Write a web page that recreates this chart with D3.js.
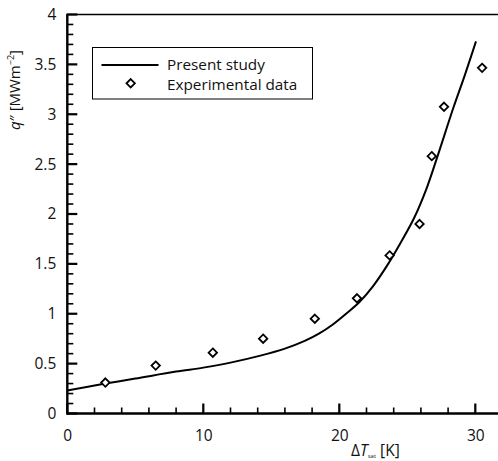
<!DOCTYPE html>
<html>
<head>
<meta charset="utf-8">
<script src="https://cdn.jsdelivr.net/npm/d3@7"></script>
<style>
  html, body { margin: 0; padding: 0; background: #fff; }
  svg { display: block; font-family: "Open Sans", "Noto Sans", sans-serif; }
</style>
</head>
<body>
<svg id="chart" width="498" height="461"></svg>
<script>
// Model prediction: heat flux vs. wall superheat
const modelDT = [0, 2.8, 5, 8, 10, 12, 14.2, 16, 17.5, 18.5, 19.5, 20.5, 21.5, 22.5, 23.5, 24.5, 25.5, 26.4, 27.2, 28.4, 29.25, 30.05];
const modelQ  = [0.23, 0.30, 0.35, 0.42, 0.46, 0.51, 0.58, 0.65, 0.73, 0.80, 0.89, 1.00, 1.12, 1.28, 1.48, 1.71, 1.96, 2.25, 2.57, 3.07, 3.40, 3.73];

// Measured points
const expDT = [2.8, 6.5, 10.7, 14.4, 18.2, 21.3, 23.7, 25.9, 26.8, 27.7, 30.5];
const expQ  = [0.31, 0.48, 0.61, 0.75, 0.95, 1.155, 1.585, 1.90, 2.58, 3.075, 3.465];

const xMajor = [0, 10, 20, 30];
const xMinor = d3.range(0, 33, 2);
const yMajor = [0, 0.5, 1, 1.5, 2, 2.5, 3, 3.5, 4];
const yMinor = d3.range(0, 41).map(d => d / 10);
const yMajorLabels = ["0", "0.5", "1", "1.5", "2", "2.5", "3", "3.5", "4"];

const svg = d3.select("#chart");
const mLeft = 67.3, mBottom = 413.5, mTop = 14.5;
const x = d3.scaleLinear().domain([0, 32]).range([mLeft, mLeft + 13.6 * 32]);
const y = d3.scaleLinear().domain([0, 4]).range([mBottom, mTop]);

// top frame line
svg.append("line")
  .attr("x1", mLeft).attr("x2", 498).attr("y1", mTop).attr("y2", mTop)
  .attr("stroke", "#000").attr("stroke-width", 1.6);

// tick labels through d3 axes
svg.append("g").attr("transform", `translate(0,${mBottom})`)
  .call(d3.axisBottom(x).tickValues(xMajor).tickSize(0).tickPadding(16).tickFormat(d3.format("d")))
  .call(g => g.select(".domain").remove())
  .call(g => g.selectAll(".tick text").attr("font-size", 15.5).attr("fill", "#111")
        .attr("font-family", "Open Sans, sans-serif"));
svg.append("g").attr("transform", `translate(${mLeft},0)`)
  .call(d3.axisLeft(y).tickValues(yMajor).tickSize(0).tickPadding(11)
        .tickFormat((d, i) => yMajorLabels[i]))
  .call(g => g.select(".domain").remove())
  .call(g => g.selectAll(".tick text").attr("font-size", 15.5).attr("fill", "#111")
        .attr("font-family", "Open Sans, sans-serif"));

// inward tick marks as thin rectangles
const isMajorY = d => yMajor.some(v => Math.abs(v - d) < 1e-9);
const ticks = svg.append("g").attr("fill", "#000");
ticks.selectAll("rect.xt").data(xMinor).join("rect").attr("class", "xt")
  .attr("x", d => x(d) - (xMajor.includes(d) ? 1.1 : 0.8))
  .attr("width", d => xMajor.includes(d) ? 2.2 : 1.6)
  .attr("y", d => mBottom - (xMajor.includes(d) ? 10 : 6))
  .attr("height", d => xMajor.includes(d) ? 10 : 6);
ticks.selectAll("rect.yt").data(yMinor).join("rect").attr("class", "yt")
  .attr("y", d => y(d) - (isMajorY(d) ? 1.1 : 0.8))
  .attr("height", d => isMajorY(d) ? 2.2 : 1.6)
  .attr("x", mLeft)
  .attr("width", d => isMajorY(d) ? 10 : 6);

// axis lines
svg.append("line").attr("x1", mLeft).attr("x2", 498).attr("y1", mBottom).attr("y2", mBottom)
  .attr("stroke", "#000").attr("stroke-width", 2.4);
svg.append("line").attr("x1", mLeft).attr("x2", mLeft).attr("y1", mTop - 0.8).attr("y2", mBottom + 1.2)
  .attr("stroke", "#000").attr("stroke-width", 2.4);

// model curve
const line = d3.line()
  .x((d, i) => x(modelDT[i]))
  .y((d, i) => y(modelQ[i]))
  .curve(d3.curveCatmullRom.alpha(0.5));
svg.append("path")
  .datum(modelQ)
  .attr("d", line)
  .attr("fill", "none").attr("stroke", "#000").attr("stroke-width", 2);

// diamonds
const diamond = r => `M0,${-r}L${r},0L0,${r}L${-r},0Z`;
svg.append("g").selectAll("path")
  .data(expQ)
  .join("path")
  .attr("transform", (d, i) => `translate(${x(expDT[i])},${y(d)})`)
  .attr("d", diamond(4.2))
  .attr("fill", "#fff").attr("stroke", "#000").attr("stroke-width", 1.8);

// legend
const lg = svg.append("g");
lg.append("rect").attr("x", 92.5).attr("y", 47.5).attr("width", 220).attr("height", 51.5)
  .attr("fill", "#fff").attr("stroke", "#000").attr("stroke-width", 1);
lg.append("line").attr("x1", 101.5).attr("x2", 158.5).attr("y1", 65).attr("y2", 65)
  .attr("stroke", "#000").attr("stroke-width", 2);
lg.append("path").attr("transform", "translate(130.7,83.3)").attr("d", diamond(4.2))
  .attr("fill", "#fff").attr("stroke", "#000").attr("stroke-width", 1.8);
lg.append("text").attr("x", 167).attr("y", 69.5).attr("font-size", 15.3).attr("fill", "#111").text("Present study");
lg.append("text").attr("x", 167).attr("y", 89.5).attr("font-size", 15.3).attr("fill", "#111").text("Experimental data");

// x axis title
const xt = svg.append("text").attr("x", 351).attr("y", 455.5).attr("font-size", 15.5).attr("fill", "#111");
xt.append("tspan").text("Δ");
xt.append("tspan").attr("font-style", "italic").text("T");
xt.append("tspan").attr("font-size", 6).attr("dy", 2).text("sat");
xt.append("tspan").attr("dy", -2).text(" [K]");

// y axis title
const yt = svg.append("text").attr("transform", "translate(20,90) rotate(-90)")
  .attr("text-anchor", "middle").attr("font-size", 15).attr("fill", "#111");
yt.append("tspan").attr("font-style", "italic").text("q");
yt.append("tspan").text("″ [MWm");
yt.append("tspan").attr("font-size", 9).attr("dy", -6).text("−2");
yt.append("tspan").attr("dy", 6).text("]");
</script>
</body>
</html>
